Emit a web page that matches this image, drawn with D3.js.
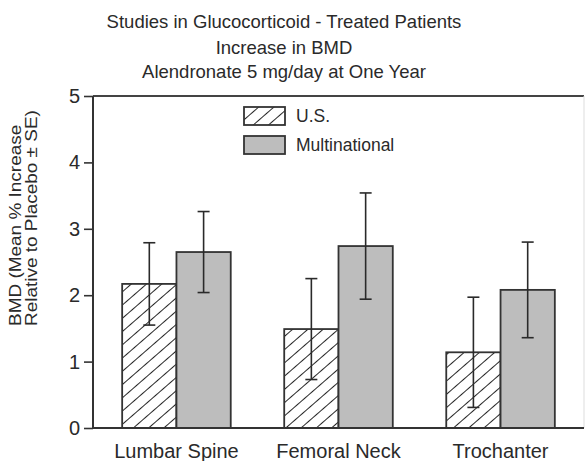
<!DOCTYPE html>
<html><head><meta charset="utf-8">
<script src="https://cdn.jsdelivr.net/npm/d3@7"></script>
<style>body{margin:0;background:#fff}svg{display:block}text{font-family:"Liberation Sans",Arial,sans-serif;fill:#2a2a2a}</style>
</head><body>
<script>
const categories = ["Lumbar Spine", "Femoral Neck", "Trochanter"];
const seriesNames = ["U.S.", "Multinational"];
const usValues = [2.17, 1.49, 1.14];
const usSE = [0.62, 0.76, 0.83];
const multiValues = [2.65, 2.74, 2.08];
const multiSE = [0.61, 0.80, 0.72];
const yTicks = [0, 1, 2, 3, 4, 5];
const titleLines = ["Studies in Glucocorticoid - Treated Patients", "Increase in BMD", "Alendronate 5 mg/day at One Year"];
const yTitleLines = ["BMD (Mean % Increase", "Relative to Placebo \u00b1 SE)"];

const W = 585, H = 461;
const svg = d3.select("body").append("svg").attr("width", W).attr("height", H);
const defs = svg.append("defs");
const pat = defs.append("pattern").attr("id", "hatch").attr("patternUnits", "userSpaceOnUse")
  .attr("width", 10).attr("height", 10).attr("patternTransform", "rotate(49)");
pat.append("line").attr("x1", 0).attr("y1", 0).attr("x2", 0).attr("y2", 10)
  .attr("stroke", "#1a1a1a").attr("stroke-width", 1.9);

const pLeft = 93, pRight = 584, pTop = 96, pBottom = 428;
const x = d3.scaleBand().domain(categories).range([pLeft, pRight]).paddingInner(0.33).paddingOuter(0.18);
const x1 = d3.scaleBand().domain(seriesNames).range([0, x.bandwidth()]);
const y = d3.scaleLinear().domain([0, 5]).range([pBottom, pTop]);

// title
svg.append("g").selectAll("text").data(titleLines).join("text")
  .attr("x", 284).attr("y", (d, i) => [28, 54, 78][i]).attr("text-anchor", "middle")
  .attr("font-size", 18.5).text(d => d);

// frame top / right
svg.append("line").attr("x1", pLeft).attr("x2", pRight).attr("y1", y(5)).attr("y2", y(5)).attr("stroke", "#444").attr("stroke-width", 2);
svg.append("line").attr("x1", pRight).attr("x2", pRight).attr("y1", y(5)).attr("y2", pBottom).attr("stroke", "#ddd").attr("stroke-width", 1);

const data = categories.map((c, i) => [
  {cat: c, s: seriesNames[0], v: usValues[i], se: usSE[i]},
  {cat: c, s: seriesNames[1], v: multiValues[i], se: multiSE[i]}
]).flat();

const bars = svg.append("g");
bars.selectAll("rect").data(data).join("rect")
  .attr("x", d => x(d.cat) + x1(d.s)).attr("width", x1.bandwidth())
  .attr("y", d => y(d.v)).attr("height", d => y(0) - y(d.v))
  .attr("fill", d => d.s === seriesNames[0] ? "url(#hatch)" : "#bdbdbd")
  .attr("stroke", "#333").attr("stroke-width", 1.8);

const eb = svg.append("g").attr("stroke", "#2a2a2a").attr("stroke-width", 1.6);
data.forEach(d => {
  const cx = x(d.cat) + x1(d.s) + x1.bandwidth() / 2;
  eb.append("line").attr("x1", cx).attr("x2", cx).attr("y1", y(d.v + d.se)).attr("y2", y(d.v - d.se));
  [d.v + d.se, d.v - d.se].forEach(v => eb.append("line").attr("x1", cx - 6).attr("x2", cx + 6).attr("y1", y(v)).attr("y2", y(v)));
});

// axes
const yAxis = svg.append("g").attr("transform", `translate(${pLeft},0)`)
  .call(d3.axisLeft(y).tickValues(yTicks).tickFormat(d3.format("d")).tickSize(9).tickPadding(4));
yAxis.select(".domain").attr("stroke", "#333").attr("stroke-width", 2).attr("d", `M0,${pTop}V${pBottom}`);
yAxis.selectAll(".tick line").attr("stroke", "#333").attr("stroke-width", 1.6);
yAxis.selectAll(".tick text").attr("font-size", 20).attr("font-family", "Liberation Sans, Arial, sans-serif").attr("fill", "#2a2a2a");

const xAxis = svg.append("g").attr("transform", `translate(0,${pBottom})`)
  .call(d3.axisBottom(x).tickSize(0).tickPadding(16));
xAxis.select(".domain").attr("stroke", "#333").attr("stroke-width", 2).attr("d", `M${pLeft},0H${pRight}`);
xAxis.selectAll(".tick text").attr("font-size", 20).attr("font-family", "Liberation Sans, Arial, sans-serif").attr("fill", "#2a2a2a");

// y title
svg.append("g").selectAll("text").data(yTitleLines).join("text")
  .attr("transform", (d, i) => `translate(${[21, 37][i]},${326}) rotate(-90) scale(1.15,1)`)
  .attr("text-anchor", "start").attr("font-size", 16.5).text(d => d);

// legend
const leg = svg.append("g");
seriesNames.forEach((s, i) => {
  const yy = [107, 136][i];
  leg.append("rect").attr("x", 244).attr("y", yy).attr("width", 41).attr("height", 18)
    .attr("fill", i === 0 ? "url(#hatch)" : "#bdbdbd").attr("stroke", "#333").attr("stroke-width", 1.8);
  leg.append("text").attr("x", 296).attr("y", yy + 15).attr("font-size", 17.5).text(s);
});
</script>
</body></html>
